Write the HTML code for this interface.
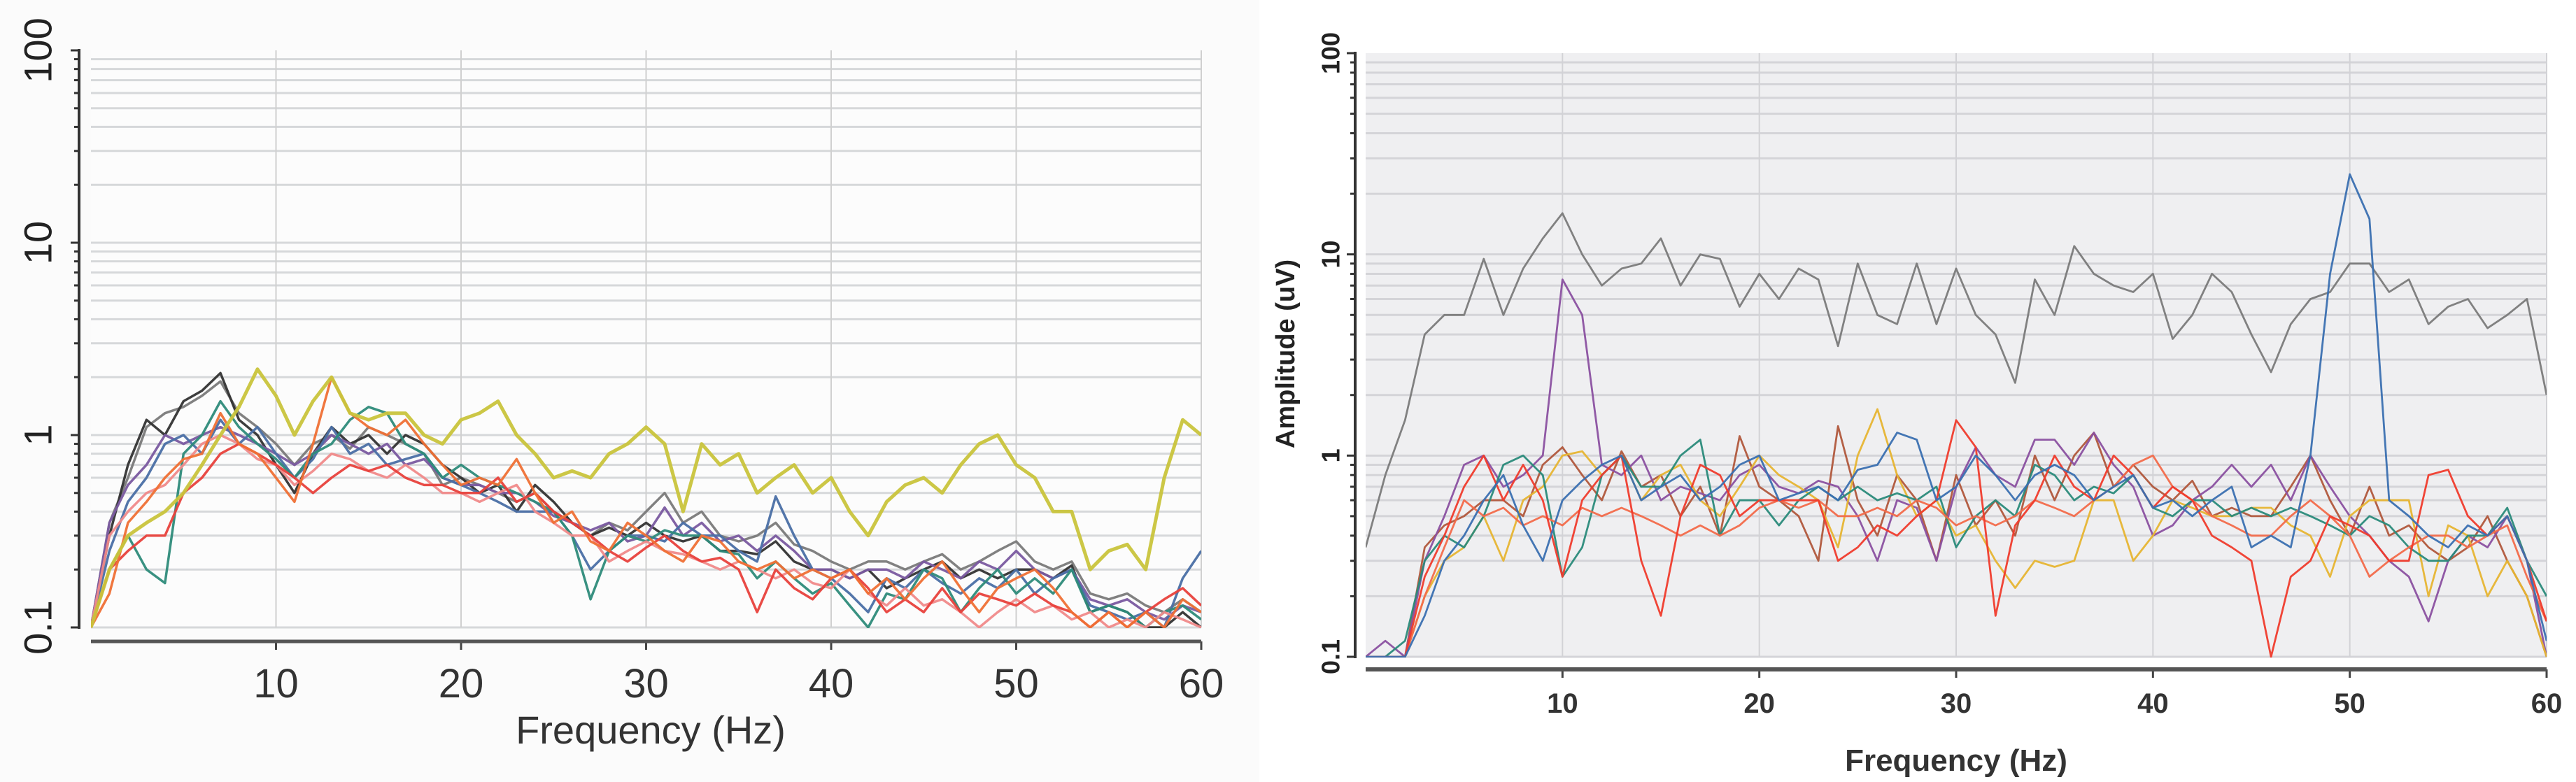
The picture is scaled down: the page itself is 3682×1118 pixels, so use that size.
<!DOCTYPE html>
<html><head><meta charset="utf-8"><style>
html,body{margin:0;padding:0;background:#fff;}
svg{display:block;}
</style></head><body>
<svg id="chart" width="3682" height="1118" viewBox="0 0 3682 1118" xmlns="http://www.w3.org/2000/svg">
<rect x="0" y="0" width="3682" height="1118" fill="#ffffff"/>
<rect x="0" y="0" width="1800" height="1118" fill="#fbfbfb"/>
<defs>
<clipPath id="clipL"><rect x="130" y="72" width="1587" height="826"/></clipPath>
<clipPath id="clipR"><rect x="1952" y="76" width="1688" height="864"/></clipPath>
</defs>
<g id="left"></g>
<g id="right"></g>
</svg>
<script>
const xTicks = [10,20,30,40,50,60];
const yTickLabels = ["0.1","1","10","100"];
const freqs = [];
for (let i=0;i<=60;i++) freqs.push(i);

const leftYellow = [0.1,0.2,0.3,0.35,0.4,0.5,0.7,1.0,1.4,2.2,1.6,1.0,1.5,2.0,1.3,1.2,1.3,1.3,1.0,0.9,1.2,1.3,1.5,1.0,0.8,0.6,0.65,0.6,0.8,0.9,1.1,0.9,0.4,0.9,0.7,0.8,0.5,0.6,0.7,0.5,0.6,0.4,0.3,0.45,0.55,0.6,0.5,0.7,0.9,1.0,0.7,0.6,0.4,0.4,0.2,0.25,0.27,0.2,0.6,1.2,1.0];
const leftGray = [0.1,0.35,0.6,1.1,1.3,1.4,1.6,1.9,1.3,1.1,0.9,0.7,0.9,1.0,0.85,1.1,1.0,0.9,0.8,0.55,0.6,0.55,0.5,0.45,0.5,0.4,0.35,0.3,0.35,0.32,0.4,0.5,0.35,0.4,0.3,0.28,0.3,0.35,0.27,0.25,0.22,0.2,0.22,0.22,0.2,0.22,0.24,0.2,0.22,0.25,0.28,0.22,0.2,0.22,0.15,0.14,0.15,0.13,0.12,0.14,0.12];
const leftBlack = [0.1,0.3,0.7,1.2,1.0,1.5,1.7,2.1,1.2,1.0,0.7,0.5,0.8,1.1,0.9,1.0,0.8,1.0,0.9,0.7,0.6,0.5,0.55,0.4,0.55,0.45,0.35,0.3,0.33,0.3,0.35,0.3,0.28,0.3,0.25,0.25,0.24,0.28,0.22,0.2,0.2,0.18,0.2,0.16,0.18,0.2,0.22,0.18,0.2,0.18,0.2,0.2,0.18,0.21,0.12,0.13,0.12,0.1,0.1,0.12,0.1];
const leftBlue = [0.1,0.25,0.45,0.6,0.9,1.0,0.8,1.2,0.9,1.1,0.8,0.6,0.75,1.1,0.8,0.9,0.7,0.75,0.8,0.6,0.55,0.5,0.45,0.4,0.4,0.4,0.3,0.2,0.25,0.3,0.3,0.28,0.35,0.3,0.3,0.25,0.22,0.48,0.3,0.2,0.18,0.15,0.12,0.18,0.16,0.2,0.17,0.15,0.18,0.16,0.2,0.15,0.18,0.2,0.13,0.12,0.11,0.12,0.1,0.18,0.25];
const leftTeal = [0.1,0.2,0.3,0.2,0.17,0.8,1.0,1.5,1.1,0.9,0.75,0.6,0.8,0.9,1.2,1.4,1.3,0.9,0.8,0.6,0.7,0.6,0.55,0.5,0.45,0.4,0.3,0.14,0.25,0.3,0.28,0.32,0.3,0.3,0.25,0.24,0.18,0.22,0.18,0.15,0.17,0.13,0.1,0.15,0.14,0.2,0.18,0.12,0.16,0.2,0.15,0.18,0.15,0.2,0.12,0.13,0.12,0.1,0.12,0.13,0.11];
const leftRed = [0.1,0.2,0.25,0.3,0.3,0.5,0.6,0.8,0.9,0.8,0.7,0.6,0.5,0.6,0.7,0.65,0.7,0.6,0.55,0.55,0.5,0.5,0.6,0.45,0.5,0.4,0.35,0.3,0.25,0.22,0.26,0.3,0.25,0.22,0.23,0.2,0.12,0.2,0.16,0.14,0.18,0.2,0.16,0.12,0.14,0.12,0.16,0.12,0.15,0.14,0.13,0.15,0.13,0.12,0.1,0.12,0.1,0.12,0.14,0.16,0.13];
const leftOrange = [0.1,0.15,0.35,0.45,0.6,0.75,0.8,1.3,0.9,0.8,0.6,0.45,0.9,2.0,1.3,1.1,1.0,1.2,0.9,0.7,0.55,0.6,0.55,0.75,0.5,0.35,0.4,0.28,0.25,0.35,0.3,0.25,0.22,0.3,0.28,0.22,0.2,0.22,0.18,0.2,0.18,0.2,0.15,0.18,0.14,0.18,0.22,0.16,0.12,0.16,0.18,0.2,0.16,0.12,0.1,0.12,0.1,0.12,0.1,0.14,0.12];
const leftPink = [0.1,0.3,0.4,0.5,0.55,0.7,0.9,1.0,0.9,0.75,0.7,0.55,0.65,0.8,0.75,0.65,0.6,0.7,0.6,0.5,0.5,0.45,0.5,0.55,0.4,0.35,0.3,0.3,0.22,0.25,0.28,0.25,0.24,0.22,0.2,0.22,0.2,0.18,0.2,0.17,0.16,0.2,0.15,0.13,0.16,0.13,0.14,0.12,0.1,0.12,0.14,0.12,0.13,0.11,0.12,0.1,0.11,0.1,0.12,0.11,0.1];
const leftPurple = [0.1,0.35,0.55,0.7,1.0,0.9,1.0,1.1,1.0,0.9,0.8,0.7,0.8,1.0,0.9,0.8,0.9,0.7,0.75,0.6,0.55,0.55,0.5,0.5,0.45,0.38,0.35,0.32,0.35,0.28,0.3,0.42,0.3,0.35,0.28,0.3,0.25,0.3,0.25,0.2,0.2,0.18,0.2,0.2,0.18,0.22,0.2,0.18,0.22,0.2,0.25,0.2,0.18,0.2,0.14,0.13,0.14,0.12,0.11,0.13,0.12];

const rightGray = [0.35,0.8,1.5,4,5,5,9.5,5,8.5,12,16,10,7,8.5,9,12,7,10,9.5,5.5,8,6,8.5,7.5,3.5,9,5,4.5,9,4.5,8.5,5,4,2.3,7.5,5,11,8,7,6.5,8,3.8,5,8,6.5,4,2.6,4.5,6,6.5,9,9,6.5,7.5,4.5,5.5,6,4.3,5,6,2];
const rightBlue = [0.1,0.1,0.1,0.16,0.3,0.4,0.6,0.8,0.45,0.3,0.6,0.75,0.9,1.0,0.6,0.7,0.8,0.6,0.7,0.9,1.0,0.6,0.65,0.7,0.6,0.85,0.9,1.3,1.2,0.6,0.7,1.0,0.8,0.6,0.8,0.9,0.8,0.6,0.7,0.8,0.55,0.6,0.5,0.6,0.7,0.35,0.4,0.35,1.0,8,25,15,0.6,0.5,0.4,0.35,0.45,0.4,0.5,0.3,0.12];
const rightPurple = [0.1,0.12,0.1,0.3,0.5,0.9,1.0,0.7,0.8,1.0,7.5,5,0.9,0.8,1.0,0.6,0.7,0.65,0.6,0.8,0.9,0.7,0.65,0.75,0.7,0.5,0.3,0.6,0.55,0.3,0.7,1.1,0.8,0.7,1.2,1.2,0.9,1.3,0.9,0.7,0.4,0.45,0.6,0.7,0.9,0.7,0.9,0.6,1.0,0.7,0.5,0.4,0.3,0.25,0.15,0.3,0.4,0.35,0.5,0.3,0.1];
const rightYellow = [0.1,0.1,0.1,0.2,0.3,0.35,0.5,0.3,0.6,0.7,1.0,1.05,0.8,1.0,0.6,0.8,0.9,0.6,0.5,0.7,1.0,0.8,0.7,0.6,0.35,1.0,1.7,0.8,0.5,0.6,0.4,0.45,0.3,0.22,0.3,0.28,0.3,0.6,0.6,0.3,0.4,0.6,0.55,0.5,0.5,0.55,0.55,0.45,0.4,0.25,0.5,0.6,0.6,0.6,0.2,0.45,0.4,0.2,0.3,0.2,0.1];
const rightTeal = [0.1,0.1,0.12,0.3,0.4,0.35,0.5,0.9,1.0,0.8,0.25,0.35,0.8,1.0,0.7,0.7,1.0,1.2,0.4,0.6,0.6,0.45,0.6,0.7,0.6,0.7,0.6,0.65,0.6,0.7,0.35,0.5,0.6,0.5,0.9,0.8,0.6,0.7,0.65,0.8,0.55,0.5,0.6,0.6,0.5,0.55,0.5,0.55,0.5,0.45,0.4,0.5,0.45,0.35,0.3,0.3,0.4,0.4,0.55,0.3,0.2];
const rightRed = [0.1,0.1,0.1,0.25,0.4,0.7,1.0,0.6,0.9,0.6,0.25,0.6,0.8,1.0,0.3,0.16,0.5,0.9,0.8,0.5,0.6,0.6,0.6,0.6,0.3,0.35,0.45,0.4,0.5,0.6,1.5,1.1,0.16,0.45,0.6,1.0,0.7,0.6,1.0,0.8,0.55,0.7,0.6,0.4,0.35,0.3,0.1,0.25,0.3,0.5,0.45,0.4,0.3,0.3,0.8,0.85,0.5,0.4,0.5,0.3,0.15];
const rightOrange = [0.1,0.1,0.1,0.2,0.35,0.6,0.5,0.55,0.45,0.5,0.45,0.55,0.5,0.55,0.5,0.45,0.4,0.45,0.4,0.45,0.55,0.6,0.55,0.6,0.5,0.5,0.55,0.5,0.6,0.55,0.45,0.5,0.45,0.5,0.6,0.55,0.5,0.6,0.7,0.9,1.0,0.7,0.6,0.5,0.45,0.4,0.4,0.5,0.6,0.5,0.4,0.25,0.3,0.35,0.4,0.4,0.35,0.4,0.45,0.25,0.15];
const rightBrown = [0.1,0.1,0.1,0.35,0.45,0.5,0.6,0.6,0.5,0.9,1.1,0.8,0.6,1.05,0.7,0.8,0.5,0.7,0.4,1.25,0.7,0.6,0.5,0.3,1.4,0.6,0.4,0.8,0.6,0.3,0.8,0.45,0.6,0.4,1.0,0.6,1.0,1.3,0.7,0.9,0.7,0.6,0.75,0.5,0.55,0.5,0.5,0.7,1.0,0.6,0.4,0.7,0.4,0.45,0.35,0.3,0.35,0.5,0.3,0.2,0.1];

const NS='http://www.w3.org/2000/svg';
function mk(tag, attrs, parent){const e=document.createElementNS(NS,tag);for(const k in attrs)e.setAttribute(k,attrs[k]);parent.appendChild(e);return e;}

function drawChart(cfg){
  const g=document.getElementById(cfg.id);
  const xS=v=>cfg.x0+(v/60)*(cfg.x1-cfg.x0);
  const yS=v=>cfg.yBot-(Math.log10(v)+1)/3*(cfg.yBot-cfg.yTop);
  const bg=mk('rect',{x:cfg.x0,y:cfg.yTop,width:cfg.x1-cfg.x0,height:cfg.yBot-cfg.yTop,fill:cfg.bg},g);
  
  
  // horizontal grid
  for(let d=-1;d<2;d++){for(let m=1;m<=9;m++){const v=m*Math.pow(10,d);const y=yS(v);
    const l=mk('line',{x1:cfg.x0,x2:cfg.x1,y1:y,y2:y,stroke:cfg.grid,'stroke-width':cfg.gw},g);
    
    
    const t=mk('line',{x1:cfg.ax-(m===1?12:7),x2:cfg.ax,y1:y,y2:y,stroke:'#333','stroke-width':3},g);
    
    
  }}
  const tt=mk('line',{x1:cfg.ax-12,x2:cfg.ax,y1:yS(100),y2:yS(100),stroke:'#333','stroke-width':3},g);
  
  
  // vertical grid
  xTicks.forEach(v=>{const x=xS(v);
    const l=mk('line',{x1:x,x2:x,y1:cfg.yTop,y2:cfg.yBot,stroke:cfg.vgrid,'stroke-width':2},g);
    
    
    const t=mk('line',{x1:x,x2:x,y1:cfg.xb,y2:cfg.xb+12,stroke:'#444','stroke-width':3},g);
    
    
    const lb=mk('text',{x:x,y:cfg.xlY,'text-anchor':'middle','font-family':'Liberation Sans Narrow, Liberation Sans, sans-serif','font-size':cfg.xlF,'font-weight':cfg.bold?'bold':'normal',fill:'#333'},g);
    lb.textContent=String(v);
    
    
  });
  // axes
  const ya=mk('line',{x1:cfg.ax,x2:cfg.ax,y1:cfg.yTop-2,y2:cfg.yBot+2,stroke:'#333','stroke-width':4},g);
  
  
  const xa=mk('line',{x1:cfg.x0,x2:cfg.x1,y1:cfg.xb,y2:cfg.xb,stroke:'#555','stroke-width':cfg.xbw},g);
  
  
  // y labels
  yTickLabels.forEach((s,i)=>{const y=yS(Math.pow(10,i-1));
    const t=mk('text',{x:0,y:0,'text-anchor':'middle','font-family':'Liberation Sans, sans-serif','font-size':cfg.ylF,'font-weight':cfg.bold?'bold':'normal',fill:'#222',transform:`translate(${cfg.ylX},${y}) rotate(-90)`,'dominant-baseline':'central'},g);
    t.textContent=s;
    
    
  });
  // series
  const sg=mk('g',{'clip-path':`url(#${cfg.clip})`},g);
  cfg.series.forEach(s=>{
    const pts=freqs.map((f,i)=>xS(f).toFixed(1)+','+yS(Math.max(s.d[i],0.05)).toFixed(1)).join(' ');
    const p=mk('polyline',{points:pts,fill:'none',stroke:s.c,'stroke-width':s.w||cfg.lw,'stroke-linejoin':'round',opacity:s.o||0.95},sg);
    
    
  });
  // x title
  const xt=mk('text',{x:cfg.xtX,y:cfg.xtY,'text-anchor':'middle','font-family':'Liberation Sans Narrow, Liberation Sans, sans-serif','font-size':cfg.xtF,'font-weight':cfg.bold?'bold':'normal',fill:'#333'},g);
  xt.textContent='Frequency (Hz)';
  
  
  if(cfg.ytitle){
    const yt=mk('text',{x:0,y:0,'text-anchor':'middle','font-family':'Liberation Sans, sans-serif','font-size':38,'font-weight':'bold',fill:'#222',transform:`translate(${cfg.ytX},${cfg.ytY}) rotate(-90)`,'dominant-baseline':'central'},g);
    yt.textContent=cfg.ytitle;
    
    
  }
}

drawChart({id:'left',clip:'clipL',x0:130,x1:1717,yTop:72,yBot:897,ax:113,xb:917,xbw:5,bg:'#fcfcfc',grid:'#d6d8da',gw:3,vgrid:'#d0d0d0',
  xlY:997,xlF:58,ylX:54,ylF:56,xtX:930,xtY:1063,xtF:56,bold:false,lw:3.5,
  series:[
    {n:'series-gray',c:'#7a7a7a',d:leftGray},{n:'series-black',c:'#333333',d:leftBlack},
    {n:'series-purple',c:'#7a5aa0',d:leftPurple},{n:'series-blue',c:'#4a6fa5',d:leftBlue},
    {n:'series-teal',c:'#2e8b7a',d:leftTeal},{n:'series-pink',c:'#f08a8a',d:leftPink},
    {n:'series-red',c:'#e8413c',d:leftRed},{n:'series-orange',c:'#ef7035',d:leftOrange},
    {n:'series-yellow',c:'#c9c43c',d:leftYellow,w:5}
  ]});
drawChart({id:'right',clip:'clipR',x0:1952,x1:3640,yTop:76,yBot:939,ax:1937,xb:957,xbw:6,bg:'#efeff1',grid:'#d4d4d8',gw:3,vgrid:'#d2d2d6',
  xlY:1019,xlF:40,ylX:1902,ylF:36,xtX:2796,xtY:1102,xtF:44,bold:true,lw:2.8,ytitle:'Amplitude (uV)',ytX:1838,ytY:506,
  series:[
    {n:'series-gray',c:'#7a7a7a',d:rightGray},{n:'series-brown',c:'#b0573c',d:rightBrown},
    {n:'series-purple',c:'#8a50a0',d:rightPurple},{n:'series-yellow',c:'#e6b432',d:rightYellow},
    {n:'series-teal',c:'#2a8a7a',d:rightTeal},{n:'series-orange',c:'#f26a4a',d:rightOrange},
    {n:'series-red',c:'#ef3b2c',d:rightRed},{n:'series-blue',c:'#3a6fb0',d:rightBlue}
  ]});
</script>
</body></html>
